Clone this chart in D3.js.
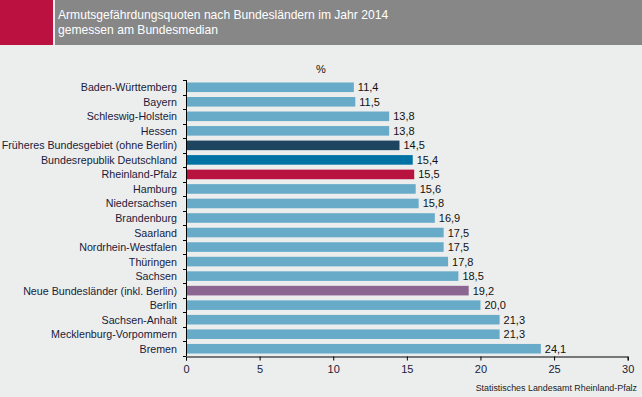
<!DOCTYPE html>
<html><head><meta charset="utf-8">
<script src="https://cdn.jsdelivr.net/npm/d3@7/dist/d3.min.js"></script>
<style>
body{margin:0;background:#eceeed;}
svg{display:block;font-family:"Liberation Sans",Arial,sans-serif;}
</style></head><body>
<svg id="c" width="642" height="397"></svg>
<script>
const categories = ["Baden-Württemberg","Bayern","Schleswig-Holstein","Hessen","Früheres Bundesgebiet (ohne Berlin)","Bundesrepublik Deutschland","Rheinland-Pfalz","Hamburg","Niedersachsen","Brandenburg","Saarland","Nordrhein-Westfalen","Thüringen","Sachsen","Neue Bundesländer (inkl. Berlin)","Berlin","Sachsen-Anhalt","Mecklenburg-Vorpommern","Bremen"];
const values = [11.4,11.5,13.8,13.8,14.5,15.4,15.5,15.6,15.8,16.9,17.5,17.5,17.8,18.5,19.2,20.0,21.3,21.3,24.1];
const barColors = ["#67abc9","#67abc9","#67abc9","#67abc9","#1d4560","#0072a3","#b8123f","#67abc9","#67abc9","#67abc9","#67abc9","#67abc9","#67abc9","#67abc9","#8a6690","#67abc9","#67abc9","#67abc9","#67abc9"];
const xTicks = [0,5,10,15,20,25,30];
const titleLines = ["Armutsgefährdungsquoten nach Bundesländern im Jahr 2014","gemessen am Bundesmedian"];
const unitLabel = "%";
const sourceText = "Statistisches Landesamt Rheinland-Pfalz";

const svg = d3.select("#c");
// header
svg.append("rect").attr("x",0).attr("y",0).attr("width",53).attr("height",45).attr("fill","#bb1140");
svg.append("rect").attr("x",55).attr("y",0).attr("width",587).attr("height",45).attr("fill","#878787");
svg.append("g").selectAll("text").data(titleLines).join("text")
  .attr("x",58).attr("y",(d,i)=>19+i*15).attr("fill","#fff").attr("font-size",12.1).text(d=>d);

const x = d3.scaleLinear().domain([0,30]).range([186,627.7]);
const y = d3.scaleBand().domain(categories).range([80,356]).paddingInner(0.34).paddingOuter(0.17);

svg.append("text").attr("x",321).attr("y",73).attr("text-anchor","middle").attr("font-size",11).attr("fill","#111").text(unitLabel);

svg.append("g").selectAll("rect").data(values).join("rect")
  .attr("x",x(0)).attr("y",(d,i)=>y(categories[i]))
  .attr("width",d=>x(d)-x(0)).attr("height",y.bandwidth())
  .attr("fill",(d,i)=>barColors[i]);

svg.append("g").selectAll("text").data(values).join("text")
  .attr("x",d=>x(d)+4).attr("y",(d,i)=>y(categories[i])+y.bandwidth()/2+4)
  .attr("font-size",11).attr("fill","#111")
  .text(d=>d.toFixed(1).replace(".",","));

// y axis
const yAxis = svg.append("g");
yAxis.append("line").attr("x1",186.5).attr("x2",186.5).attr("y1",80).attr("y2",356).attr("stroke","#000");
const bounds = d3.range(categories.length+1).map(i=>80+i*(276/categories.length));
yAxis.selectAll("line.t").data(bounds).join("line").attr("class","t")
  .attr("x1",183).attr("x2",186).attr("y1",d=>Math.round(d)+0.5).attr("y2",d=>Math.round(d)+0.5).attr("stroke","#000");
yAxis.selectAll("text").data(categories).join("text")
  .attr("x",177).attr("y",d=>y(d)+y.bandwidth()/2+4).attr("text-anchor","end")
  .attr("font-size",10.7).attr("fill","#1a1a3a").text(d=>d);

// x axis
const xa = svg.append("g").attr("transform","translate(0,356.5)")
  .call(d3.axisBottom(x).tickValues(xTicks).tickSize(4).tickFormat(d3.format("d")));
xa.select(".domain").attr("stroke","#000");
xa.selectAll(".tick line").attr("stroke","#000");
xa.selectAll(".tick text").attr("font-size",11).attr("fill","#1a1a3a").attr("font-family","Liberation Sans, Arial, sans-serif").attr("dy","0.9em");

svg.append("text").attr("x",637).attr("y",391).attr("text-anchor","end").attr("font-size",8.9).attr("fill","#222").text(sourceText);
</script>
</body></html>
